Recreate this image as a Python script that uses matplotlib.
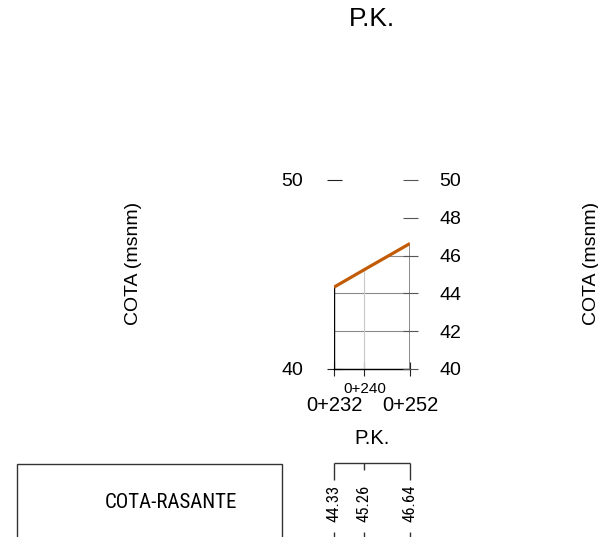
import matplotlib
matplotlib.use("Agg")
import matplotlib.pyplot as plt
from matplotlib import font_manager
from matplotlib.patches import Polygon, Rectangle

# Dades del perfil (P.K. i cota de rasant)
pk = [232, 240, 252]
cota = [44.33, 45.26, 46.64]
pk_labels = [f"0+{p}" for p in pk]
cota_labels = [f"{c:.2f}" for c in cota]
yticks_left = [40, 50]
yticks_right = [40, 42, 44, 46, 48, 50]

plt.rcParams["font.family"] = ["Liberation Sans", "DejaVu Sans"]

# Font estreta si n'hi ha cap d'instal·lada
installed = {f.name for f in font_manager.fontManager.ttflist}
narrow = None
for name in ["Liberation Sans Narrow", "Arial Narrow", "Roboto Condensed",
             "Open Sans Condensed", "Noto Sans Condensed"]:
    if name in installed:
        narrow = name
        break
if narrow:
    narrow_fam, big_size, small_size = [narrow, "DejaVu Sans"], 15, 12
else:
    narrow_fam, big_size, small_size = ["Liberation Sans", "DejaVu Sans"], 12.5, 10.5

W, H = 598, 537
fig = plt.figure(figsize=(W / 100, H / 100), dpi=100)


def fx(px):
    return px / W


def fy(py):
    return 1 - py / H


# Eix principal
ax = fig.add_axes([fx(334), fy(369), (410 - 334) / W, (369 - 180) / H])
ax.set_xlim(pk[0], pk[-1])
ax.set_ylim(40, 50)
for s in ax.spines.values():
    s.set_visible(False)
ax.spines["bottom"].set_visible(True)
ax.spines["bottom"].set_linewidth(1)

ax.set_yticks(yticks_left)
ax.tick_params(axis="y", direction="inout", length=10.8, width=0.8,
               pad=17, labelsize=14, color="#222222")

axr = ax.twinx()
axr.set_ylim(40, 50)
for s in axr.spines.values():
    s.set_visible(False)
axr.set_yticks(yticks_right)
axr.tick_params(axis="y", direction="inout", length=10.8, width=0.8,
                pad=16, labelsize=14, color="#555555")

ax.set_xticks(pk, pk_labels)
ax.tick_params(axis="x", direction="inout", length=9.4, width=0.8,
               pad=15, labelsize=14.5, color="#222222")
mid = ax.xaxis.get_major_ticks()[1]
mid.set_pad(5)
mid.label1.set_fontsize(11)

# Graella retallada a la zona sota la rasant
verts = [(pk[0], 40)] + list(zip(pk, cota)) + [(pk[-1], 40)]
poly = Polygon(verts, closed=True, transform=ax.transData)
hg = ax.hlines(yticks_right, pk[0], pk[-1], color="#8a8a8a", lw=0.8)
hg.set_clip_path(poly)
vg = ax.vlines(pk[1:-1], 40, 50, color="#c8c8c8", lw=0.8)
vg.set_clip_path(poly)
ax.vlines(pk[0], 40, cota[0], color="black", lw=1)
ax.vlines(pk[-1], 40, cota[-1], color="#777777", lw=1.2)

ax.plot(pk, cota, color="#c25b06", lw=2.3, solid_capstyle="butt", zorder=5)

# Textos
fig.text(fx(372), fy(19), "P.K.", ha="center", va="center", fontsize=19)
fig.text(fx(372), fy(438), "P.K.", ha="center", va="center", fontsize=14.5)
fig.text(fx(133), fy(263), "COTA (msnm)", ha="center", va="center",
         rotation=90, fontsize=14)
fig.text(fx(591), fy(263), "COTA (msnm)", ha="center", va="center",
         rotation=90, fontsize=14)

# Taula inferior
fig.add_artist(Rectangle((fx(17), fy(545)), (282 - 17) / W, (545 - 464) / H,
                         transform=fig.transFigure, fill=False, lw=1,
                         ec="#333333"))
fig.text(fx(171), fy(502), "COTA-RASANTE", ha="center", va="center",
         fontsize=big_size, family=narrow_fam)

ax2 = fig.add_axes([fx(334), 0, (410 - 334) / W, (537 - 463) / H])
ax2.set_xlim(pk[0], pk[-1])
ax2.set_ylim(0, 74)
ax2.axis("off")
ax2.hlines(74, pk[0], pk[-1], color="#333333", lw=1, clip_on=False)
ax2.vlines(pk, [57, 67, 57], 74, color="#333333", lw=1, clip_on=False)
ax2.vlines(pk, 0, 5, color="#333333", lw=1, clip_on=False)
for p, t in zip(pk, cota_labels):
    ax2.text(p, 34, t, rotation=90, ha="center", va="center",
             fontsize=small_size, family=narrow_fam)

fig.savefig("out.png", dpi=100)
